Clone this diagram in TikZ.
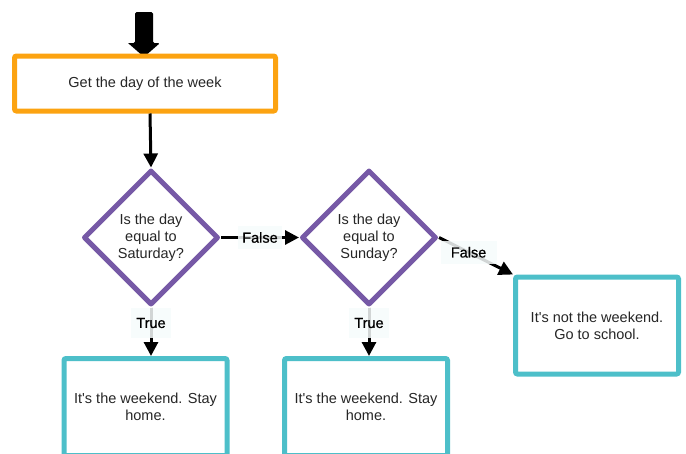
\documentclass[tikz,border=0pt]{standalone}
\usepackage{fontspec}
\setmainfont{Liberation Sans}
\usetikzlibrary{shapes.geometric,arrows.meta}
\definecolor{stepor}{HTML}{FCA311}
\definecolor{decpur}{HTML}{7659A6}
\definecolor{endteal}{HTML}{4DBFC9}
\definecolor{txtgray}{HTML}{262626}
\definecolor{lblbg}{HTML}{F6FBFB}
\newcommand{\apos}{\textquotesingle}
\tikzset{
  x=1pt, y=-1pt,
  every node/.style={font=\fontsize{14.5}{17}\selectfont, text=txtgray, align=center},
  stepbox/.style={draw=stepor, line width=5pt, rounded corners=2pt, fill=white,
    minimum width=261pt, minimum height=55pt, inner sep=0pt},
  decision/.style={draw=decpur, line width=5pt, diamond, aspect=1, line join=round,
    minimum width=135pt, minimum height=135pt, inner sep=0pt, fill=white},
  endbox/.style={draw=endteal, line width=5pt, rounded corners=2pt, fill=white,
    minimum width=163pt, minimum height=97pt, inner sep=0pt},
  flow/.style={draw=black, line width=3pt, -{Triangle[length=14pt,width=14pt]}},
  lbl/.style={font=\fontsize{14.5}{16}\selectfont\addfontfeature{FakeBold=0.7}, text=black,
    fill=lblbg, fill opacity=0.85, text opacity=1, inner xsep=5pt, inner ysep=6pt}
}
\begin{document}
\begin{tikzpicture}
\useasboundingbox (0,0) rectangle (686,453);

% entry arrow into the first step
\fill[black, rounded corners=1.5pt] (135,12) -- (153,12) -- (153,43) -- (160,43)
  [sharp corners] -- (144,57) -- (128,43) [rounded corners=1.5pt] -- (135,43) -- cycle;

% steps and decisions
\node[stepbox] (get) at (145,83.5) {Get the day of the week};
\node[decision] (sat) at (151,237.5) {Is the day\\equal to\\Saturday?};
\node[decision] (sun) at (369,237.5) {Is the day\\equal to\\Sunday?};
\node[endbox] (home1) at (145.5,407) {It\apos s the weekend. Stay\\home.};
\node[endbox] (home2) at (366,407) {It\apos s the weekend. Stay\\home.};
\node[endbox] (school) at (597,325.5) {It\apos s not the weekend.\\Go to school.};

% connectors
\draw[flow] ([xshift=5pt]get.south) -- (sat.north);
\draw[flow] (sat.east) -- node[lbl, inner xsep=4pt] {False} (sun.west);
\draw[flow] (sat.south) -- node[lbl, pos=0.32, minimum height=30pt] {True} (sat.south |- home1.north);
\draw[flow] (sun.south) -- node[lbl, pos=0.32, minimum height=30pt] {True} (sun.south |- home2.north);
\draw[flow] (sun.east) -- node[lbl, pos=0.4, minimum width=56pt] {False} (school.north west);
\end{tikzpicture}
\end{document}
